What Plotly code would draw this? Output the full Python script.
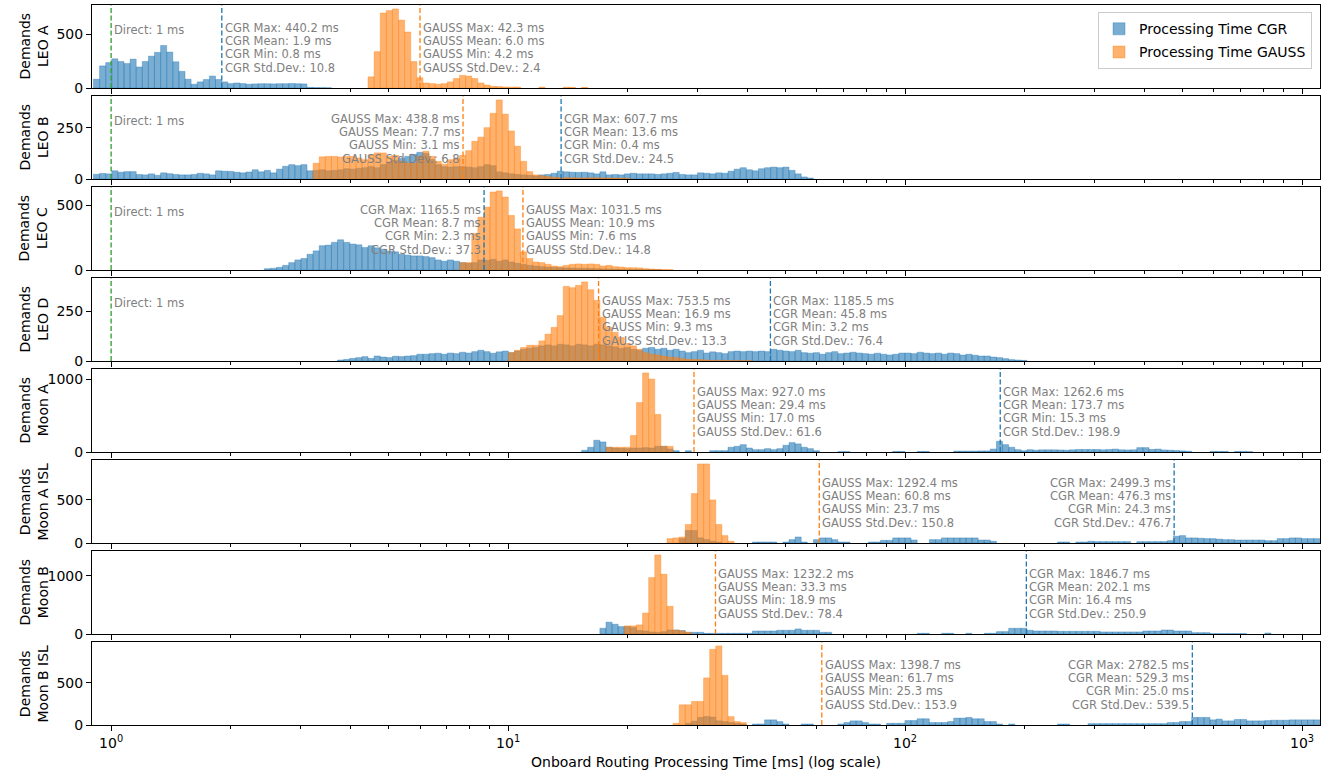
import numpy as np
import plotly.graph_objects as go
from plotly.subplots import make_subplots

# ---------------- data ----------------
panel_names = ["LEO A", "LEO B", "LEO C", "LEO D", "Moon A", "Moon A ISL", "Moon B", "Moon B ISL"]
has_direct = [True, True, True, True, False, False, False, False]
direct_ms = 1.0

# global log-spaced histogram bins (overall min .. overall max)
bin_min_ms = 0.4
bin_max_ms = 2782.5
n_bins = 250

cgr_max = [440.2, 607.7, 1165.5, 1185.5, 1262.6, 2499.3, 1846.7, 2782.5]
cgr_mean = [1.9, 13.6, 8.7, 45.8, 173.7, 476.3, 202.1, 529.3]
cgr_min = [0.8, 0.4, 2.3, 3.2, 15.3, 24.3, 16.4, 25.0]
cgr_std = [10.8, 24.5, 37.3, 76.4, 198.9, 476.7, 250.9, 539.5]
gauss_max = [42.3, 438.8, 1031.5, 753.5, 927.0, 1292.4, 1232.2, 1398.7]
gauss_mean = [6.0, 7.7, 10.9, 16.9, 29.4, 60.8, 33.3, 61.7]
gauss_min = [4.2, 3.1, 7.6, 9.3, 17.0, 23.7, 18.9, 25.3]
gauss_std = [2.4, 6.8, 14.8, 13.3, 61.6, 150.8, 78.4, 153.9]

# index of the first bin of each histogram count list
cgr_first_bin = [23, 23, 51, 63, 103, 119, 106, 120]
gauss_first_bin = [68, 59, 83, 91, 107, 117, 110, 118]

leo_a_cgr = [82, 206, 237, 272, 247, 228, 269, 196, 247, 297, 332, 396, 335, 244, 155, 82, 35, 57, 79, 111, 79, 57, 41,
             47, 41, 35, 38, 40, 40, 38, 40, 40, 42, 40, 38, 6, 4, 3, 2]
leo_a_gauss = [104, 339, 699, 722, 737, 633, 522, 247, 95, 47, 41, 35, 41, 57, 89, 117, 111, 89, 47, 28, 16, 13,
               9, 8, 9, 0, 0, 0, 8, 0, 0, 0, 7, 6, 0, 6]

leo_b_cgr = [23, 27, 25, 40, 33, 36, 36, 22, 20, 25, 18, 30, 26, 22, 20, 20, 22, 28, 25, 20, 40, 38, 37, 33, 30,
             34, 45, 35, 42, 30, 48, 62, 70, 65, 70,
             40, 42, 45, 40, 42, 45, 50, 48, 52, 55, 60, 55, 70, 80, 90, 100, 110, 120, 130, 125, 95, 70, 60, 58, 60,
             60, 58, 55, 60, 70, 65, 35, 30, 25, 22, 20, 18, 15, 20, 22, 28, 38, 35,
             33, 32, 33, 30, 25, 35, 20, 22, 20, 25, 28, 25, 25, 25, 22, 25, 28, 32, 22, 20, 20, 30, 28, 25, 30,
             28, 38, 48, 55, 45, 40, 50, 55, 58, 55, 58, 42, 25, 10, 5]
leo_b_gauss = [77, 108, 110, 110, 107, 110, 110, 102, 94, 118, 127, 127, 110, 115, 86, 77, 77, 110, 135, 110,
               86, 72, 94, 102, 115, 138, 184, 204, 250, 320, 385, 316, 234, 160, 86, 36, 20, 16, 12,
               8, 7, 6, 6, 5, 5, 6, 6, 5, 5, 4, 4, 3]

leo_c_cgr = [10, 13, 21, 36, 57, 78, 89, 122, 148, 188, 193, 214, 234, 214, 201, 195, 174, 188, 172, 161,
             146, 141, 122, 115, 109, 109, 104, 96, 78, 68, 78, 68, 57, 52, 57, 78, 75, 83, 68, 78,
             62, 52, 44, 36, 31, 26, 22, 20, 18, 16, 15, 14, 13, 12, 10, 9, 8, 7, 6, 5, 3, 3, 3, 2, 2]
leo_c_gauss = [57, 57, 284, 409, 487, 604, 612, 565, 422, 318, 141, 89, 62, 57, 44, 31, 26, 36, 44, 47,
               44, 47, 44, 31, 36, 26, 23, 18, 18, 16, 10, 8, 5, 4, 3]

leo_d_cgr = [5, 8, 13, 17, 22, 13, 25, 20, 17, 24, 22, 25, 27, 34, 34, 37, 39, 34, 40, 37,
             44, 40, 47, 54, 47, 39, 46, 50, 42, 50, 59, 64, 68, 76, 81, 76, 84, 81, 76, 84,
             81, 76, 84, 81, 76, 71, 64, 68, 59, 54, 64, 68, 59, 64, 54, 59, 50, 42, 47, 54,
             40, 46, 42, 37, 47, 50, 47, 50, 47, 50, 47, 59, 54, 50, 47, 54, 42, 39, 42, 34,
             42, 47, 37, 40, 44, 40, 37, 34, 39, 34, 30, 34, 40, 40, 37, 44, 40, 37, 40, 34,
             40, 37, 30, 34, 29, 25, 25, 20, 17, 12, 7, 5, 3]
leo_d_gauss = [42, 54, 68, 79, 79, 101, 135, 169, 228, 375, 368, 380, 397, 358, 304, 220, 169, 144, 118, 88,
               76, 59, 42, 34, 30, 25, 20, 17, 13, 8, 8, 7, 5, 3, 3, 3, 2, 2, 2, 2]

moon_a_cgr = [23, 65, 161, 138, 65, 55, 50, 46, 55, 55,
              60, 55, 78, 78, 40, 18, 0, 18, 0, 0,
              0, 18, 18, 18, 65, 78, 101, 55, 32, 32,
              46, 32, 46, 92, 129, 111, 65, 46, 18, 0,
              0, 0, 5, 5, 0, 0, 0, 0, 0, 0,
              0, 8, 8, 0, 0, 8, 8, 0, 0, 0,
              0, 12, 12, 12, 12, 15, 15, 40, 147, 101,
              65, 32, 18, 32, 25, 30, 30, 30, 28, 25,
              30, 35, 35, 35, 35, 30, 35, 40, 30, 28,
              30, 60, 60, 35, 40, 28, 25, 20, 15, 10,
              0, 0, 0, 8, 8, 8, 0, 8, 8, 5]
moon_a_gauss = [65, 65, 65, 65, 226, 678, 1084, 1000, 516, 78, 78]

moon_a_isl_cgr = [50, 145, 145, 60, 40, 20, 10, 0, 0, 0,
                  0, 0, 12, 12, 12, 12, 0, 12, 39, 70,
                  12, 0, 39, 59, 59, 39, 12, 12, 0, 0,
                  0, 12, 12, 31, 31, 59, 59, 59, 35, 0,
                  0, 39, 39, 59, 59, 59, 59, 59, 59, 35,
                  35, 20, 0, 0, 0, 0, 0, 0, 0, 0,
                  0, 0, 12, 12, 0, 12, 12, 20, 16, 16,
                  16, 16, 16, 16, 0, 16, 16, 16, 16, 16,
                  27, 78, 86, 59, 59, 55, 51, 51, 45, 39,
                  39, 35, 35, 35, 35, 35, 27, 27, 51, 51,
                  59, 59, 51, 51, 51]
moon_a_isl_gauss = [51, 59, 70, 215, 574, 918, 918, 500, 215, 86, 20]

moon_b_cgr = [98, 203, 168, 127, 127, 110, 60, 52, 35, 29,
              40, 69, 69, 60, 29, 29, 29, 12, 12, 12,
              12, 12, 12, 12, 12, 52, 52, 52, 52, 64,
              64, 64, 87, 64, 64, 64, 29, 29, 0, 0,
              0, 0, 0, 0, 0, 0, 0, 0, 0, 0,
              0, 0, 12, 12, 0, 0, 12, 12, 0, 0,
              12, 0, 0, 12, 12, 41, 41, 98, 98, 98,
              64, 52, 52, 52, 52, 46, 46, 46, 46, 46,
              46, 46, 35, 35, 35, 35, 35, 35, 35, 52,
              52, 52, 69, 69, 52, 52, 52, 23, 23, 23,
              6, 6, 6, 6, 6, 6, 0, 0, 0, 17]
moon_b_gauss = [139, 139, 156, 359, 967, 1355, 1025, 475, 69, 52, 29]

moon_b_isl_cgr = [20, 45, 90, 102, 95, 50, 41, 30, 20, 12,
                  0, 12, 12, 61, 61, 41, 12, 0, 0, 12,
                  12, 0, 0, 0, 0, 12, 29, 49, 49, 29,
                  12, 12, 0, 20, 20, 20, 53, 53, 74, 74,
                  29, 29, 29, 41, 82, 82, 90, 74, 74, 41,
                  41, 12, 0, 12, 0, 0, 0, 0, 0, 0,
                  0, 12, 12, 0, 0, 0, 16, 16, 16, 16,
                  16, 16, 16, 16, 16, 16, 16, 16, 16, 29,
                  29, 41, 41, 90, 90, 90, 61, 70, 49, 49,
                  66, 66, 49, 49, 49, 53, 57, 57, 57, 61,
                  61, 61, 61, 61]
moon_b_isl_gauss = [20, 240, 240, 280, 280, 560, 900, 940, 590, 100, 41, 29]

cgr_counts = [leo_a_cgr, leo_b_cgr, leo_c_cgr, leo_d_cgr, moon_a_cgr, moon_a_isl_cgr, moon_b_cgr, moon_b_isl_cgr]
gauss_counts = [leo_a_gauss, leo_b_gauss, leo_c_gauss, leo_d_gauss, moon_a_gauss, moon_a_isl_gauss,
                moon_b_gauss, moon_b_isl_gauss]

ytick_step = [500, 250, 500, 250, 1000, 500, 1000, 500]
# which side of its mean line each statistics block is written on
cgr_text_side = ["right", "right", "left", "right", "right", "left", "right", "left"]
gauss_text_side = ["right", "left", "right", "right", "right", "right", "right", "right"]

x_limits = [0.895, 1110]
x_major = [1, 10, 100, 1000]
x_major_text = ["10<sup>0</sup>", "10<sup>1</sup>", "10<sup>2</sup>", "10<sup>3</sup>"]

# ---------------- styles ----------------
FONT = "DejaVu Sans"
BLUE = "#1f77b4"
ORANGE = "#ff7f0e"
GREEN = "#2ca02c"
BLUE_A = "rgba(31,119,180,0.6)"
ORANGE_A = "rgba(255,127,14,0.6)"
GREY = "#808080"

W, H = 1328, 776
ML, MR, MT, MB = 92, 8, 5, 51
PH = H - MT - MB
PANEL_PX = 83
GAP_PX = 8

edges = np.logspace(np.log10(bin_min_ms), np.log10(bin_max_ms), n_bins + 1)

n = len(panel_names)
fig = make_subplots(rows=n, cols=1, shared_xaxes=True, vertical_spacing=GAP_PX / PH)


def bars(counts, first, color, name, show):
    c = np.asarray(counts, dtype=float)
    lo = edges[first:first + len(c)]
    hi = edges[first + 1:first + 1 + len(c)]
    keep = c > 0
    return go.Bar(x=((lo + hi) / 2)[keep], y=c[keep], width=(hi - lo)[keep],
                  marker=dict(color=color, line=dict(color=color, width=0.6)),
                  name=name, showlegend=show, legendgroup=name, hoverinfo="skip")


annotations = []
for i in range(n):
    r = i + 1
    ymax = max(max(cgr_counts[i]), max(gauss_counts[i])) * 1.05
    fig.add_trace(bars(cgr_counts[i], cgr_first_bin[i], BLUE_A, "Processing Time CGR", i == 0), row=r, col=1)
    fig.add_trace(bars(gauss_counts[i], gauss_first_bin[i], ORANGE_A, "Processing Time GAUSS", i == 0), row=r, col=1)

    lines = []
    if has_direct[i]:
        lines.append((direct_ms, GREEN))
    lines.append((cgr_mean[i], BLUE))
    lines.append((gauss_mean[i], ORANGE))
    for xv, col in lines:
        fig.add_trace(go.Scatter(x=[xv, xv], y=[0, ymax], mode="lines",
                                 line=dict(color=col, width=1.3, dash="5px,2.5px"),
                                 showlegend=False, hoverinfo="skip"), row=r, col=1)

    xref = "x" if r == 1 else f"x{r}"
    yref = "y domain" if r == 1 else f"y{r} domain"

    if has_direct[i]:
        annotations.append(dict(x=np.log10(direct_ms), y=1 - 25 / PANEL_PX, xref=xref, yref=yref,
                                text="Direct: 1 ms", showarrow=False, xanchor="left", yanchor="middle",
                                xshift=1, font=dict(family=FONT, size=11.5, color=GREY)))

    blocks = [("CGR", cgr_mean[i], cgr_max[i], cgr_min[i], cgr_std[i], cgr_text_side[i]),
              ("GAUSS", gauss_mean[i], gauss_max[i], gauss_min[i], gauss_std[i], gauss_text_side[i])]
    for lab, mean, mx, mn, sd, side in blocks:
        texts = [f"{lab} Max: {mx:.1f} ms", f"{lab} Mean: {mean:.1f} ms",
                 f"{lab} Min: {mn:.1f} ms", f"{lab} Std.Dev.: {sd:.1f}"]
        for j, t in enumerate(texts):
            annotations.append(dict(x=np.log10(mean), y=1 - (23 + 13.2 * j) / PANEL_PX, xref=xref, yref=yref,
                                    text=t, showarrow=False,
                                    xanchor="left" if side == "right" else "right",
                                    xshift=1 if side == "right" else -1,
                                    yanchor="middle", align="left" if side == "right" else "right",
                                    font=dict(family=FONT, size=11.5, color=GREY)))

    # y label
    annotations.append(dict(x=-(ML - 33) / (W - ML - MR), y=0.5, xref="paper", yref=yref,
                            text=f"Demands<br>{panel_names[i]}", showarrow=False, textangle=-90,
                            xanchor="center", yanchor="middle",
                            font=dict(family=FONT, size=14, color="black")))

    fig.update_yaxes(range=[0, ymax], dtick=ytick_step[i], tick0=0, row=r, col=1)
    fig.update_xaxes(showticklabels=(r == n), row=r, col=1)

annotations.append(dict(x=0.5, y=-(762 - (H - MB)) / PH, xref="paper", yref="paper",
                        text="Onboard Routing Processing Time [ms] (log scale)", showarrow=False,
                        xanchor="center", yanchor="middle", font=dict(family=FONT, size=14, color="black")))

minor_vals = [m * d for d in [1, 10, 100, 1000] for m in range(2, 10)]
fig.update_xaxes(type="log", range=[np.log10(x_limits[0]), np.log10(x_limits[1])],
                 showline=True, linecolor="black", linewidth=1, mirror=True,
                 ticks="outside", ticklen=5, tickwidth=1, tickcolor="black",
                 tickmode="array", tickvals=x_major, ticktext=x_major_text,
                 minor=dict(ticks="outside", ticklen=3, tickwidth=0.8, tickcolor="black",
                            tickmode="array", tickvals=minor_vals),
                 showgrid=False, zeroline=False, tickfont=dict(family=FONT, size=14, color="black"))
fig.update_yaxes(showline=True, linecolor="black", linewidth=1, mirror=True,
                 ticks="outside", ticklen=5, tickwidth=1, tickcolor="black",
                 showgrid=False, zeroline=False, tickfont=dict(family=FONT, size=14, color="black"))

fig.update_layout(
    width=W, height=H, barmode="overlay",
    margin=dict(l=ML, r=MR, t=MT, b=MB),
    plot_bgcolor="white", paper_bgcolor="white",
    font=dict(family=FONT, size=14, color="black"),
    annotations=annotations,
    legend=dict(x=0.9935, y=0.99, xanchor="right", yanchor="top",
                bgcolor="rgba(255,255,255,0.85)", bordercolor="#cccccc", borderwidth=1,
                font=dict(family=FONT, size=14, color="black"), tracegroupgap=2),
)

fig.write_html("out.html", config={"displayModeBar": False},
               post_script="document.body.style.margin='0px';document.body.style.padding='0px';")
